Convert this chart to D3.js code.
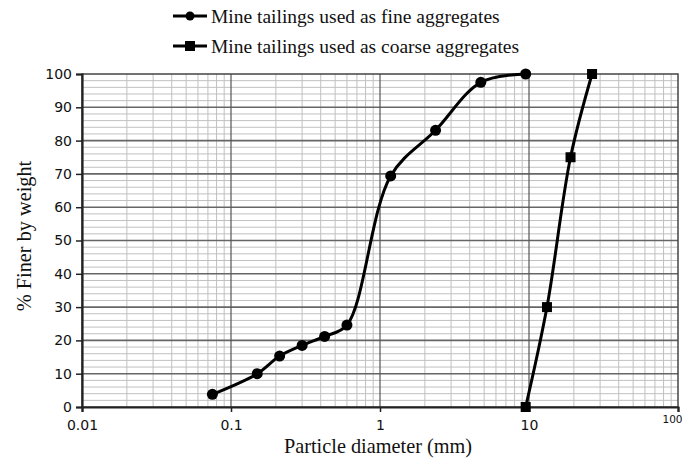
<!DOCTYPE html>
<html><head><meta charset="utf-8">
<script src="https://cdn.jsdelivr.net/npm/d3@7"></script>
<style>body{margin:0;background:#fff}svg{display:block}</style>
</head><body>
<script>
const seriesNames = ["Mine tailings used as fine aggregates", "Mine tailings used as coarse aggregates"];
const fineSize = [0.075, 0.15, 0.212, 0.3, 0.425, 0.6, 1.18, 2.36, 4.75, 9.5];
const finePassing = [3.8, 10, 15.3, 18.5, 21.2, 24.6, 69.4, 83.1, 97.5, 100];
const coarseSize = [9.5, 13.2, 19, 26.5];
const coarsePassing = [0, 30, 75, 100];
const xTickValues = [0.01, 0.1, 1, 10, 100];
const xTickLabels = ["0.01", "0.1", "1", "10", "100"];
const yTickValues = [0, 10, 20, 30, 40, 50, 60, 70, 80, 90, 100];

const W = 685, H = 460;
const m = {left: 82, right: 7, top: 74, bottom: 53};
const svg = d3.select("body").append("svg").attr("width", W).attr("height", H);
const x = d3.scaleLog().domain([0.01, 100]).range([m.left, W - m.right]);
const y = d3.scaleLinear().domain([0, 100]).range([H - m.bottom, m.top]);

const g = svg.append("g");
// minor vertical grid
const minorX = [];
for (let d = 0.01; d < 100; d *= 10) for (let k = 2; k <= 9; k++) minorX.push(d * k);
g.selectAll(".mvx").data(minorX).join("line")
  .attr("x1", d => x(d)).attr("x2", d => x(d)).attr("y1", y(0)).attr("y2", y(100))
  .attr("stroke", "#c0c0c0").attr("stroke-width", 1);
// minor horizontal grid
const minorY = d3.range(0, 101, 2).filter(v => v % 10 !== 0);
g.selectAll(".mhy").data(minorY).join("line")
  .attr("x1", x(0.01)).attr("x2", x(100)).attr("y1", d => y(d)).attr("y2", d => y(d))
  .attr("stroke", "#c0c0c0").attr("stroke-width", 1);
// major horizontal grid
g.selectAll(".Mhy").data(yTickValues.slice(1, -1)).join("line")
  .attr("x1", x(0.01)).attr("x2", x(100)).attr("y1", d => y(d)).attr("y2", d => y(d))
  .attr("stroke", "#666").attr("stroke-width", 1.6);
// major vertical grid
g.selectAll(".Mvx").data(xTickValues.slice(1, -1)).join("line")
  .attr("x1", d => x(d)).attr("x2", d => x(d)).attr("y1", y(0)).attr("y2", y(100))
  .attr("stroke", "#555").attr("stroke-width", 1.2);
// border
g.append("rect").attr("x", x(0.01)).attr("y", y(100)).attr("width", x(100) - x(0.01)).attr("height", y(0) - y(100))
  .attr("fill", "none").attr("stroke", "#444").attr("stroke-width", 1.5);

// axes
const yAxis = d3.axisLeft(y).tickValues(yTickValues).tickSize(6).tickPadding(4);
const ya = svg.append("g").attr("transform", `translate(${m.left},0)`).call(yAxis);
ya.select(".domain").attr("stroke", "#222").attr("stroke-width", 2.2);
ya.selectAll(".tick line").attr("stroke", "#222").attr("stroke-width", 1.5);
ya.selectAll(".tick text").attr("font-family", "DejaVu Sans, sans-serif").attr("font-size", 14).attr("fill", "#111");

const xAxis = d3.axisBottom(x).tickValues(xTickValues).tickFormat((d, i) => xTickLabels[i]).tickSize(5).tickPadding(8);
const xa = svg.append("g").attr("transform", `translate(0,${y(0)})`).call(xAxis);
xa.select(".domain").attr("stroke", "#222").attr("stroke-width", 2.2);
xa.selectAll(".tick line").attr("stroke", "#222").attr("stroke-width", 1.5);
xa.selectAll(".tick text").attr("font-family", "DejaVu Sans, sans-serif").attr("font-size", 14).attr("fill", "#111");
xa.selectAll(".tick").filter(d => d === 100).select("text").attr("font-size", 10.5).attr("dy", "0.3em").attr("dx", "-6");

// series
const line = d3.line().x(d => x(d[0])).y(d => y(d[1])).curve(d3.curveCatmullRom.alpha(0.5));
const fine = fineSize.map((s, i) => [s, finePassing[i]]);
const coarse = coarseSize.map((s, i) => [s, coarsePassing[i]]);
svg.append("path").datum(fine).attr("d", line).attr("fill", "none").attr("stroke", "#000").attr("stroke-width", 3);
svg.append("path").datum(coarse).attr("d", line).attr("fill", "none").attr("stroke", "#000").attr("stroke-width", 3);
svg.selectAll(".pf").data(fine).join("circle").attr("cx", d => x(d[0])).attr("cy", d => y(d[1])).attr("r", 5.5).attr("fill", "#000");
svg.selectAll(".pc").data(coarse).join("rect").attr("x", d => x(d[0]) - 5).attr("y", d => y(d[1]) - 5)
  .attr("width", 10).attr("height", 10).attr("fill", "#000");

// legend
const leg = svg.append("g");
[0, 1].forEach(i => {
  const ly = 16 + i * 30;
  leg.append("line").attr("x1", 173).attr("x2", 207).attr("y1", ly).attr("y2", ly).attr("stroke", "#000").attr("stroke-width", 3);
  if (i === 0) leg.append("circle").attr("cx", 190).attr("cy", ly).attr("r", 4.5).attr("fill", "#000");
  else leg.append("rect").attr("x", 185).attr("y", ly - 5).attr("width", 10).attr("height", 10).attr("fill", "#000");
  leg.append("text").attr("x", 211).attr("y", ly).attr("dy", "0.35em")
    .attr("font-family", "Liberation Serif, serif").attr("font-size", 19.5).attr("fill", "#111").text(seriesNames[i]);
});

// axis titles
svg.append("text").attr("x", 378).attr("y", 453).attr("text-anchor", "middle")
  .attr("font-family", "Liberation Serif, serif").attr("font-size", 20.3).attr("fill", "#111").text("Particle diameter (mm)");
svg.append("text").attr("transform", "translate(31,236) rotate(-90)").attr("text-anchor", "middle")
  .attr("font-family", "Liberation Serif, serif").attr("font-size", 20.3).attr("fill", "#111").text("% Finer by weight");
</script>
</body></html>
